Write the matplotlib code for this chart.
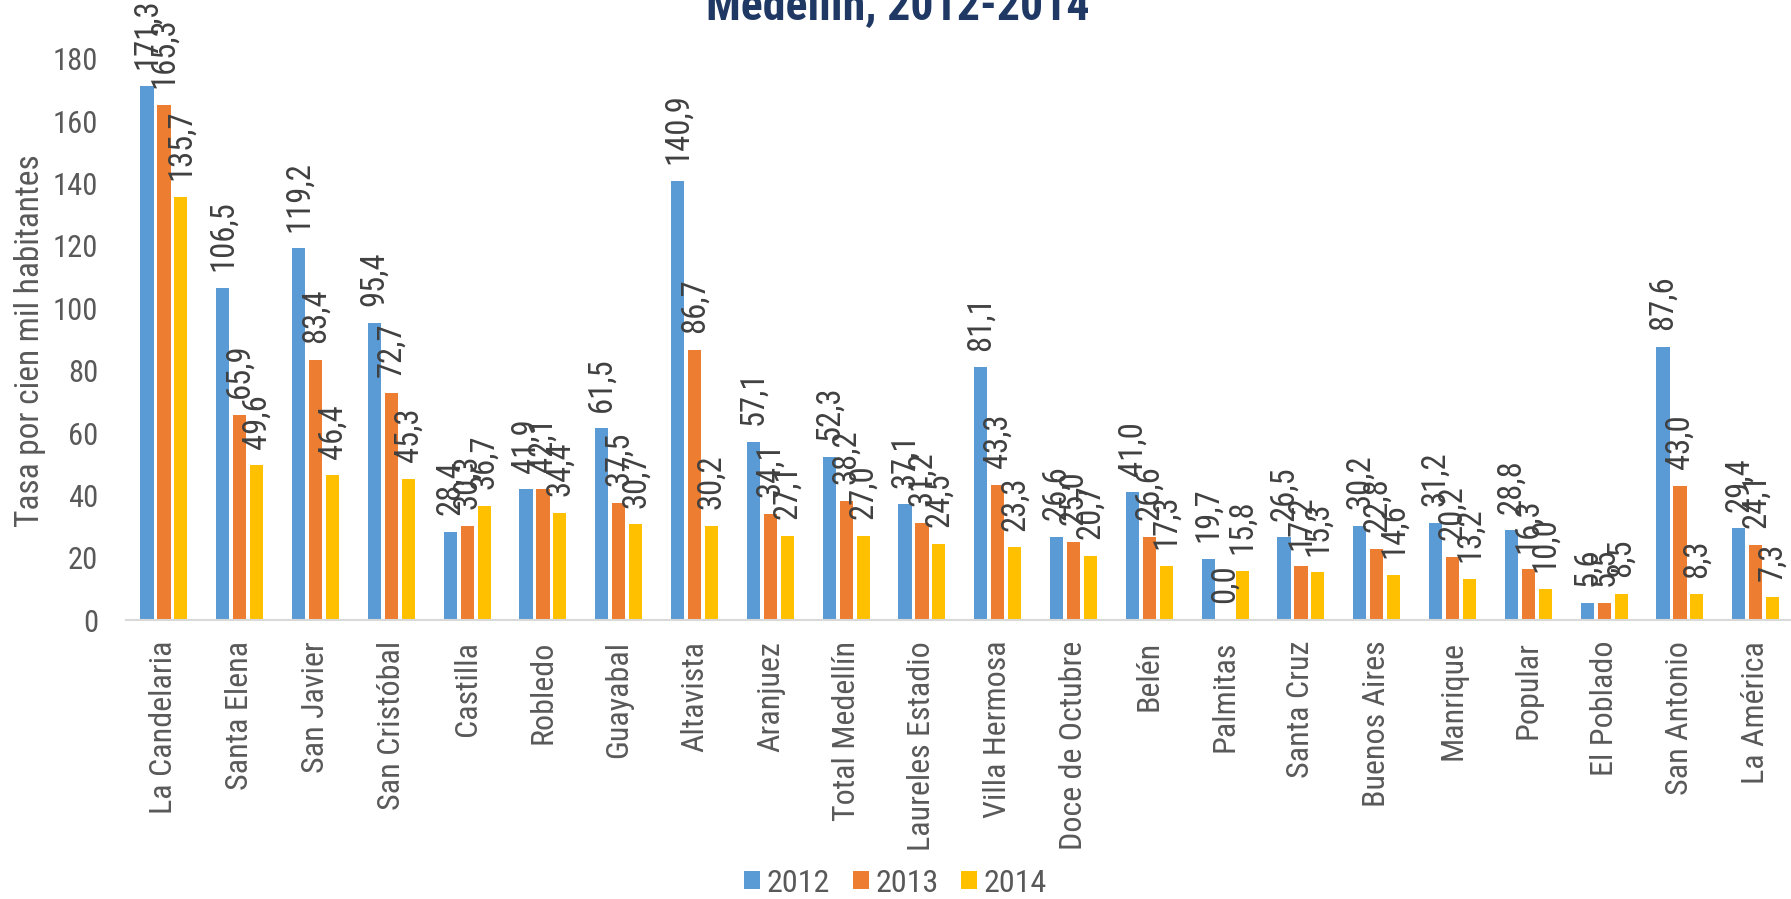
import numpy as np
import matplotlib
matplotlib.use("Agg")
import matplotlib.pyplot as plt
from matplotlib import font_manager

# tasas por cien mil habitantes, por comuna / corregimiento
comunas = ["La Candelaria", "Santa Elena", "San Javier", "San Cristóbal", "Castilla",
           "Robledo", "Guayabal", "Altavista", "Aranjuez", "Total Medellín",
           "Laureles Estadio", "Villa Hermosa", "Doce de Octubre", "Belén", "Palmitas",
           "Santa Cruz", "Buenos Aires", "Manrique", "Popular", "El Poblado",
           "San Antonio", "La América"]
tasa_2012 = [171.3, 106.5, 119.2, 95.4, 28.4, 41.9, 61.5, 140.9, 57.1, 52.3, 37.1,
             81.1, 26.6, 41.0, 19.7, 26.5, 30.2, 31.2, 28.8, 5.6, 87.6, 29.4]
tasa_2013 = [165.3, 65.9, 83.4, 72.7, 30.3, 42.1, 37.5, 86.7, 34.1, 38.2, 31.2,
             43.3, 25.0, 26.6, 0.0, 17.2, 22.8, 20.2, 16.3, 5.5, 43.0, 24.1]
tasa_2014 = [135.7, 49.6, 46.4, 45.3, 36.7, 34.4, 30.7, 30.2, 27.1, 27.0, 24.5,
             23.3, 20.7, 17.3, 15.8, 15.3, 14.6, 13.2, 10.0, 8.5, 8.3, 7.3]
anios = ["2012", "2013", "2014"]
colores = ["#5B9BD5", "#ED7D31", "#FFC000"]

# fuente angosta si existe; si no, Liberation Sans un poco mas pequena
disponibles = {f.name for f in font_manager.fontManager.ttflist}
fuente, k = "Liberation Sans", 0.84
for nombre in ["Liberation Sans Narrow", "Arial Narrow", "Roboto Condensed", "Open Sans Condensed"]:
    if nombre in disponibles:
        fuente, k = nombre, 1.0
        break
fam = [fuente, "DejaVu Sans"]
gris = "#595959"

fig = plt.figure(figsize=(17.91, 8.99), dpi=100)
ax = fig.add_axes([0.0704, 0.3103, 0.9311, 0.6241])

x = np.arange(len(comunas))
ancho = 0.172
paso = 0.224
for i, (vals, c, a) in enumerate(zip([tasa_2012, tasa_2013, tasa_2014], colores, anios)):
    barras = ax.bar(x + (i - 1) * paso, vals, ancho, color=c, label=a)
    for b, v in zip(barras, vals):
        ax.annotate(f"{v:.1f}".replace(".", ","),
                    (b.get_x() + b.get_width() / 2, v),
                    xytext=(0, 12), textcoords="offset points",
                    rotation=90, ha="center", va="bottom",
                    fontsize=23.5 * k, color="#404040", family=fam,
                    annotation_clip=False)

ax.set_xlim(-0.5, len(comunas) - 0.5)
ax.set_ylim(0, 180)
ax.set_yticks(np.arange(0, 181, 20))
ax.set_yticklabels([str(t) for t in range(0, 181, 20)], family=fam, fontsize=22 * k, color=gris)
ax.set_xticks(x)
ax.set_xticklabels(comunas, rotation=90, family=fam, fontsize=23 * k, color=gris)
ax.tick_params(length=0)
ax.tick_params(axis="x", pad=15)
ax.tick_params(axis="y", pad=20)

for s in ["top", "right", "left"]:
    ax.spines[s].set_visible(False)
ax.spines["bottom"].set_color("#D9D9D9")
ax.spines["bottom"].set_linewidth(1.5)

fig.text(0.0167, 0.621, "Tasa por cien mil habitantes", rotation=90, ha="center", va="center",
         family=fam, fontsize=24 * k, color=gris)

fig.text(0.5015, 1 - 19 / 899, "Medellín, 2012-2014", ha="center", va="baseline",
         family=fam, fontsize=33 * k, fontweight="bold", color="#1F3864")

fig.legend(loc="center", bbox_to_anchor=(0.5, 1 - 883 / 899), ncol=3, frameon=False,
           prop={"family": fam, "size": 23 * k}, labelcolor=gris,
           handlelength=0.5, handleheight=0.5, handletextpad=0.2, columnspacing=0.72)

fig.savefig("out.png", dpi=100)
